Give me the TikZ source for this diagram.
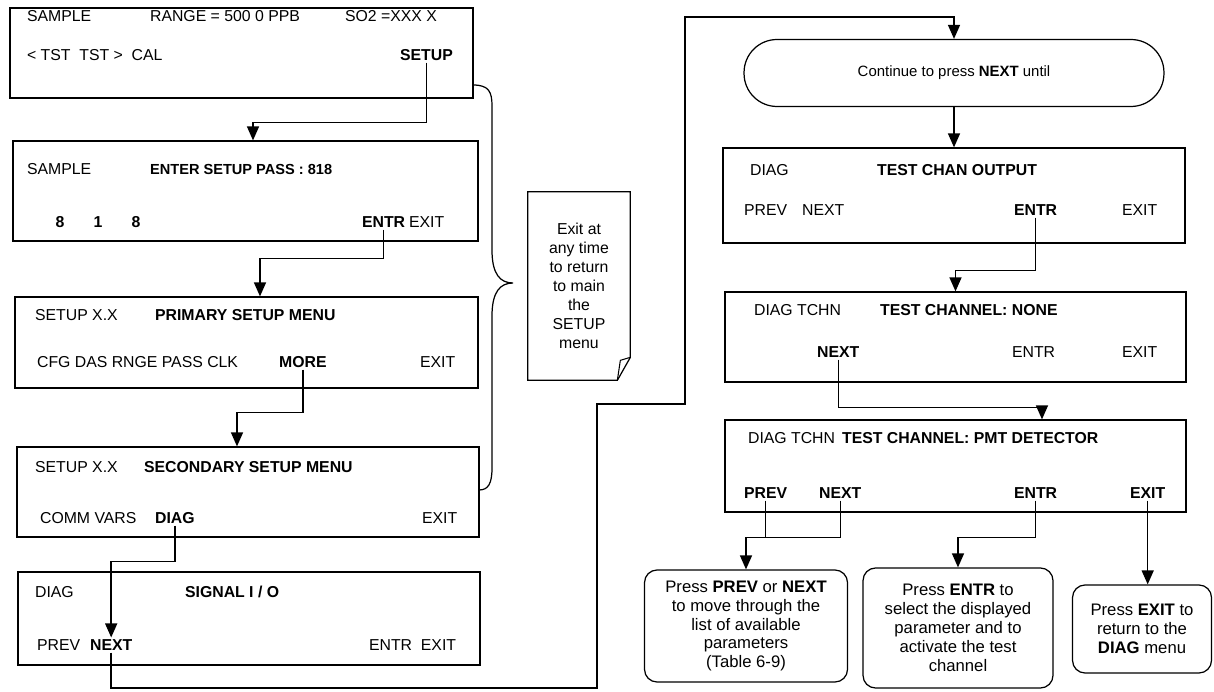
\documentclass[tikz,border=0pt]{standalone}
\usepackage{fontspec}
\setmainfont{Liberation Sans}
\usetikzlibrary{arrows.meta,fit}

\tikzset{
  screen/.style={draw, rectangle, inner sep=0pt, line width=0.7pt},
  lbl/.style={anchor=west, inner sep=1pt, font=\fontsize{9}{10}\selectfont},
  key/.style={lbl, font=\fontsize{9}{10}\selectfont\bfseries},
  ckey/.style={key, anchor=center},
  hint/.style={draw, rectangle, rounded corners=0.25cm, line width=0.7pt, align=center,
    font=\fontsize{9.5}{10.8}\selectfont, inner sep=2pt},
  flow/.style={line width=0.8pt, -{Triangle[length=0.28cm, width=0.24cm]}},
  link/.style={line width=0.8pt}
}

\begin{document}
\begin{tikzpicture}[x=0.02cm, y=-0.02cm]
    \useasboundingbox (0,0) rectangle (1214,692);

    % left column of screens
    \node[screen, fit={(10,8) (473,98)}] (s1) {};
    \node[lbl] (s1mode) at (25,16) {SAMPLE};
    \node[lbl] (s1range) at (148,16) {RANGE = 500 0 PPB};
    \node[lbl] (s1conc) at (343,16) {SO2 =XXX X};
    \node[lbl] (s1tst) at (25,55) {< TST\ \ TST >\ \ CAL};
    \node[key] (s1setup) at (398,55) {SETUP};

    \node[screen, fit={(13,141) (478,241)}] (s2) {};
    \node[lbl] (s2mode) at (25,169) {SAMPLE};
    \node[key, font=\fontsize{8.3}{10}\selectfont\bfseries] (s2pass) at (148,169) {ENTER SETUP PASS : 818};
    \node[ckey] (s2da) at (60,222) {8};
    \node[ckey] (s2db) at (98,222) {1};
    \node[ckey] (s2dc) at (136,222) {8};
    \node[key] (s2entr) at (360,222) {ENTR};
    \node[lbl] (s2exit) at (407,222) {EXIT};

    \node[screen, fit={(15,297) (478,388)}] (s3) {};
    \node[lbl] (s3mode) at (33,315) {SETUP X.X};
    \node[key] (s3title) at (153,315) {PRIMARY SETUP MENU};
    \node[lbl] (s3menu) at (35,362) {CFG\ DAS\ RNGE\ PASS\ CLK};
    \node[key] (s3more) at (277,362) {MORE};
    \node[lbl] (s3exit) at (418,362) {EXIT};

    \node[screen, fit={(17,447) (479,537)}] (s4) {};
    \node[lbl] (s4mode) at (33,467) {SETUP X.X};
    \node[key] (s4title) at (142,467) {SECONDARY SETUP MENU};
    \node[lbl] (s4menu) at (38,518) {COMM\ VARS};
    \node[key] (s4diag) at (153,518) {DIAG};
    \node[lbl] (s4exit) at (420,518) {EXIT};

    \node[screen, fit={(18,572) (480,665)}] (s5) {};
    \node[lbl] (s5mode) at (33,592) {DIAG};
    \node[key] (s5title) at (183,592) {SIGNAL I / O};
    \node[lbl] (s5prev) at (35,645) {PREV};
    \node[key] (s5next) at (88,645) {NEXT};
    \node[lbl] (s5exit) at (367,645) {ENTR\ \ EXIT};

    % exit note and brace
    \node[align=center, inner sep=0pt, minimum width=2.04cm, minimum height=3.76cm,
      font=\fontsize{9}{10.8}\selectfont] (note) at (579,286)
      {Exit at\\any time\\to return\\to main\\the\\SETUP\\menu};
    \draw[line width=0.7pt] (note.north west) -- (note.north east)
      -- ([yshift=0.46cm]note.south east) -- ([xshift=-0.26cm]note.south east)
      -- (note.south west) -- cycle;
    \draw[line width=0.6pt] ([yshift=0.46cm]note.south east) -- ([xshift=-0.2cm,yshift=0.4cm]note.south east)
      -- ([xshift=-0.26cm]note.south east);
    \draw[line width=0.7pt] (473,85) .. controls (489,85) and (492,92) .. (492,106) -- (492,250)
      .. controls (492,274) and (500,283) .. (513,283)
      .. controls (500,283) and (492,292) .. (492,316) -- (492,468)
      .. controls (492,484) and (488,490) .. (479,490);

    % right column
    \node[draw, rectangle, rounded corners=0.66cm, line width=0.7pt, minimum width=8.4cm,
      minimum height=1.34cm, font=\fontsize{8.5}{10}\selectfont] (pill) at (954,73)
      {Continue to press \textbf{NEXT} until};

    \node[screen, fit={(723,148) (1185,243)}] (s6) {};
    \node[lbl] (s6mode) at (748,170) {DIAG};
    \node[key] (s6title) at (875,170) {TEST CHAN OUTPUT};
    \node[lbl] (s6prev) at (742,210) {PREV};
    \node[lbl] (s6next) at (800,210) {NEXT};
    \node[key] (s6entr) at (1012,210) {ENTR};
    \node[lbl] (s6exit) at (1120,210) {EXIT};

    \node[screen, fit={(725,292) (1186,382)}] (s7) {};
    \node[lbl] (s7mode) at (752,310) {DIAG TCHN};
    \node[key] (s7title) at (878,310) {TEST CHANNEL: NONE};
    \node[key] (s7next) at (815,352) {NEXT};
    \node[lbl] (s7entr) at (1010,352) {ENTR};
    \node[lbl] (s7exit) at (1120,352) {EXIT};

    \node[screen, fit={(725,420) (1186,512)}] (s8) {};
    \node[lbl] (s8mode) at (746,438) {DIAG TCHN};
    \node[key] (s8title) at (840,438) {TEST CHANNEL: PMT DETECTOR};
    \node[key] (s8prev) at (742,493) {PREV};
    \node[key] (s8next) at (817,493) {NEXT};
    \node[key] (s8entr) at (1012,493) {ENTR};
    \node[key] (s8exit) at (1128,493) {EXIT};

    \node[hint, minimum width=4.06cm, minimum height=2.24cm] (hintMove) at (746,626)
      {Press \textbf{PREV} or \textbf{NEXT}\\to move through the\\list of available\\parameters\\(Table 6-9)};
    \node[hint, minimum width=3.8cm, minimum height=2.4cm] (hintSelect) at (958,628)
      {Press \textbf{ENTR} to\\select the displayed\\parameter and to\\activate the test\\channel};
    \node[hint, minimum width=2.78cm, minimum height=1.76cm] (hintBack) at (1142,629)
      {Press \textbf{EXIT} to\\return to the\\\textbf{DIAG} menu};

    % connectors
    \draw[flow] (s1setup.south) -- ++(0,-1.2cm) -| ([xshift=0.15cm]s2.north);
    \draw[flow] (s2entr.south) -- ++(0,-0.58cm) -| ([xshift=0.27cm]s3.north);
    \draw[flow] (s3more.south) -- ++(0,-0.86cm) -| ([xshift=-0.22cm]s4.north);
    \draw[flow] (s4diag.south) -- ++(0,-0.72cm) -| (s5next.north);
    \draw[flow] (s5next.south) |- (597,688) |- (685,404) -- (685,17) -| (pill.north);
    \draw[flow] (pill.south) -- (s6.north);
    \draw[flow] (s6entr.south) -- ++(0,-1.06cm) -| (s7.north);
    \draw[flow] (s7next.south) -- ++(0,-0.96cm) -| ([xshift=1.73cm]s8.north);
    \draw[link] (s8prev.south) -- ++(0,-0.74cm);
    \draw[flow] (s8next.south) -- ++(0,-0.74cm) -| (hintMove.north);
    \draw[flow] (s8entr.south) -- ++(0,-0.74cm) -| (hintSelect.north);
    \draw[flow] (s8exit.south) -- (s8exit.south |- hintBack.north);
\end{tikzpicture}
\end{document}
